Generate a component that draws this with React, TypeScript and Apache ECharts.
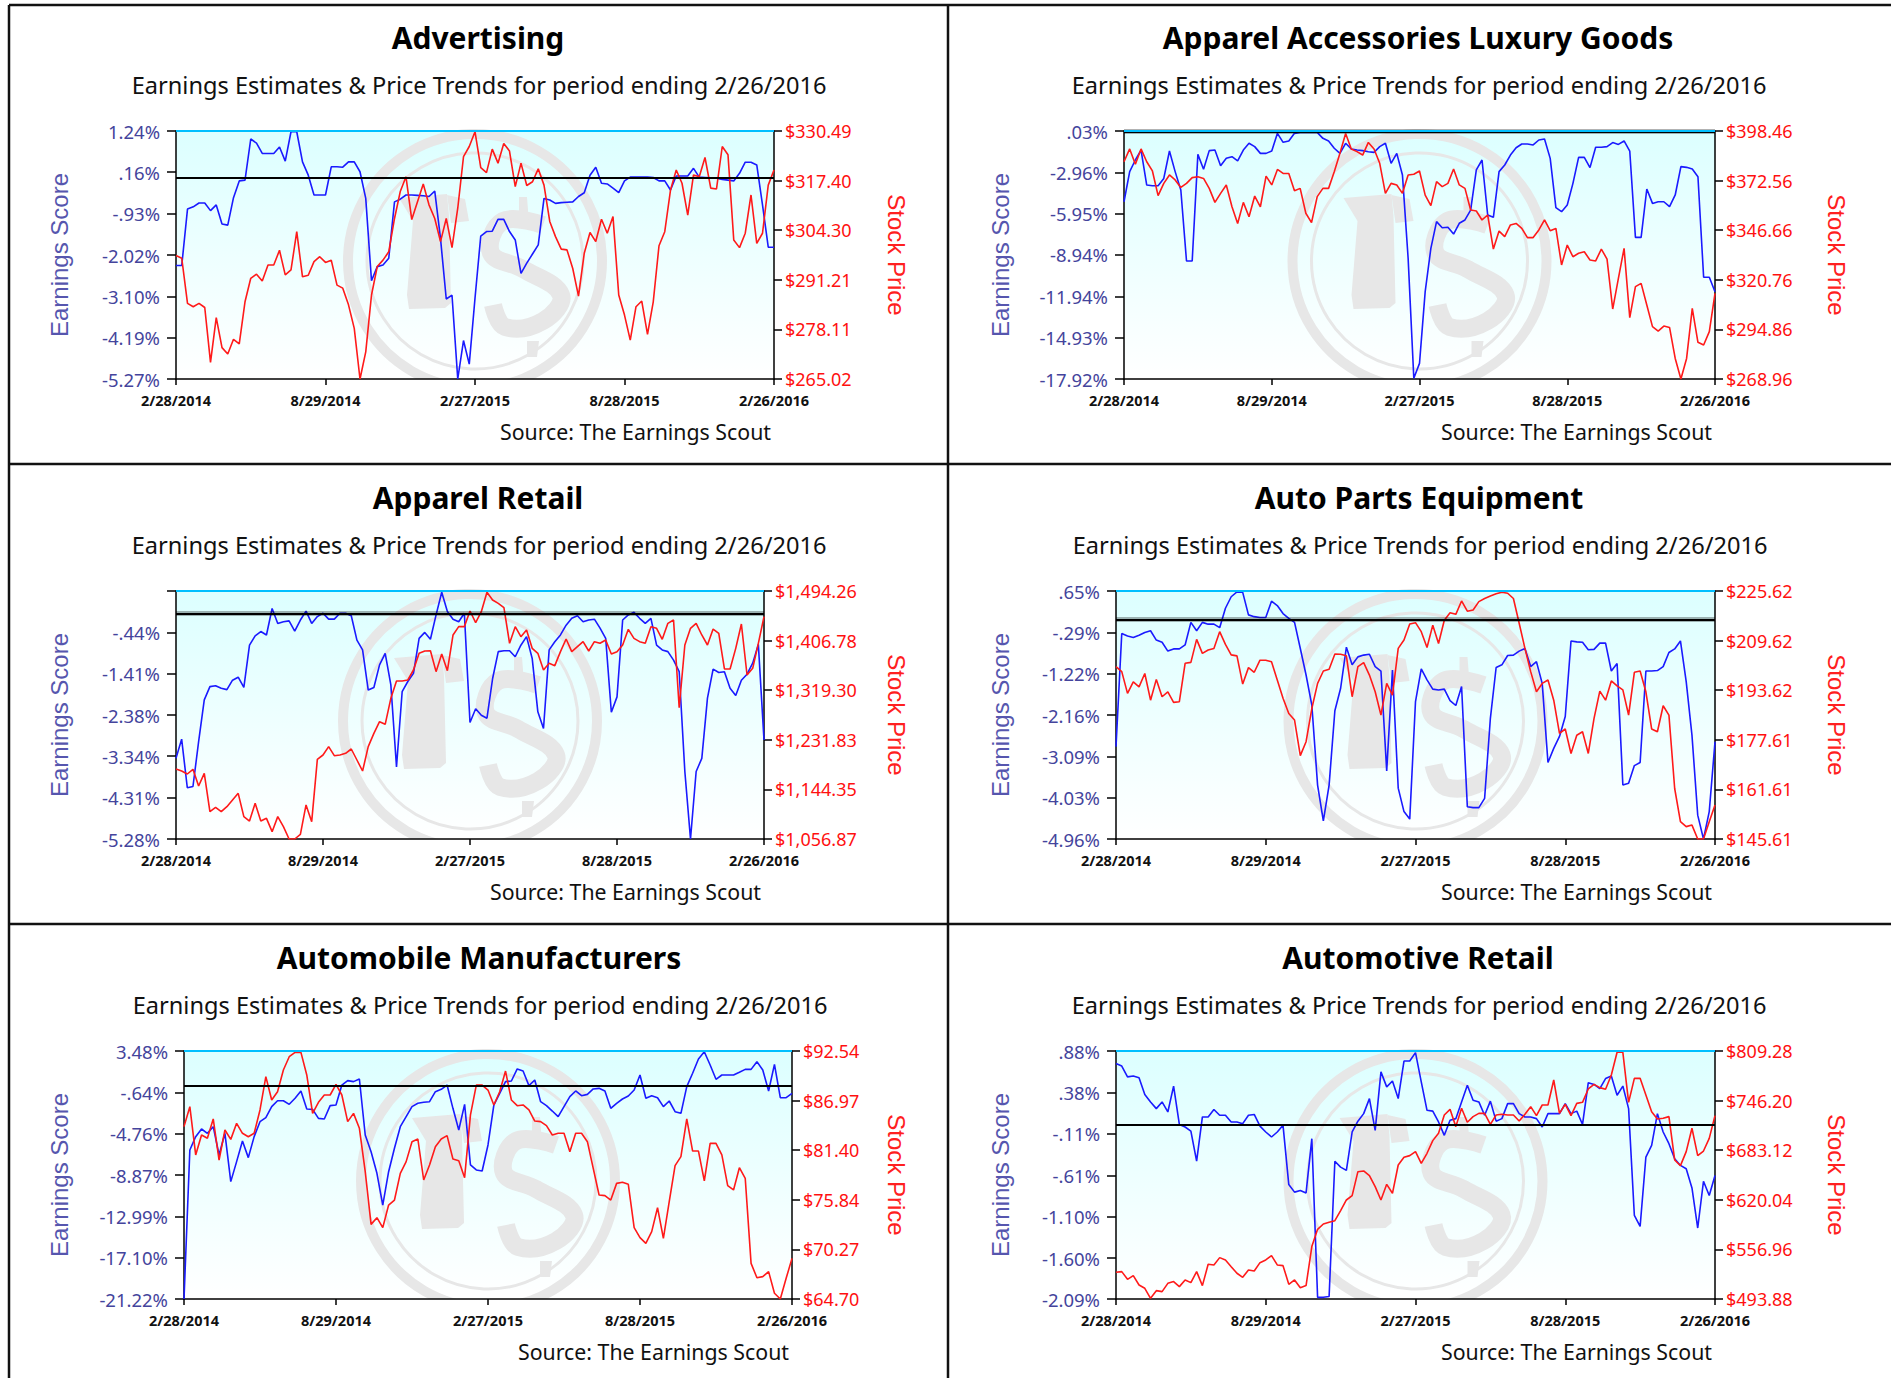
import React, { useEffect, useRef } from "react";
import * as echarts from "echarts";

const dateLabels = ["2/28/2014", "8/29/2014", "2/27/2015", "8/28/2015", "2/26/2016"];
const subtitleText = "Earnings Estimates & Price Trends for period ending 2/26/2016";
const sourceText = "Source: The Earnings Scout";

const advertisingEarnings = [-2.29,-2.29,-.81,-.75,-.65,-.65,-.85,-.70,-1.20,-1.23,-.51,-.07,-.05,1.03,.92,.65,.65,.65,.82,.45,1.22,1.22,.43,.08,-.44,-.44,-.44,.30,.30,.29,.43,.43,.17,-.53,-2.69,-2.32,-2.28,-2.10,-.62,-.55,-.44,-.44,-.45,-.46,-.48,-.34,-1.58,-3.17,-3.07,-5.27,-4.26,-4.88,-3.15,-1.52,-1.40,-1.39,-1.08,-1.08,-1.40,-1.62,-2.50,-2.23,-1.99,-1.75,-.53,-.57,-.66,-.64,-.63,-.62,-.48,-.38,.08,.29,-.13,-.15,-.26,-.38,-.07,.03,.03,.03,.03,.02,-.07,-.07,-.31,.06,.06,.06,.26,.03,.02,.01,0,-.03,-.05,-.07,.13,.42,.42,.35,-.70,-1.81,-1.81];
const advertisingPrice = [297.6,296.9,285.0,284.1,285.0,283.9,269.4,281.2,273.3,271.6,275.5,274.3,285.4,291.6,292.7,290.9,295.1,295.1,299.0,292.5,293.8,303.9,292.0,292.4,296.0,297.3,295.8,296.4,289.8,289.0,284.6,278.4,265.02,272.2,287.2,294.7,296.4,298.6,307.4,314.5,318.4,307.1,311.8,316.5,311.0,307.4,301.3,307.4,299.7,310.1,323.7,326.4,330.3,320.8,319.5,325.7,322.0,327.2,325.2,315.8,322.0,316.1,317.1,320.5,316.2,306.6,302.6,299.3,299.1,294.2,286.9,298.2,303.7,301.3,307.2,303.5,307.9,287.2,281.9,275.3,284.1,285.6,276.8,285.4,300.2,303.9,314.9,320.2,316.7,308.3,318.9,318.4,323.5,315.4,315.2,326.4,324.2,301.7,299.7,303.5,313.6,300.8,303.5,316.2,320.2];
const luxuryEarnings = [-5.09,-2.91,-2.07,-1.35,-3.88,-3.93,-3.93,-3.40,-1.42,-2.91,-4.24,-9.38,-9.38,-1.66,-2.74,-1.39,-1.35,-2.48,-1.95,-1.83,-2.14,-1.35,-.86,-1.10,-1.59,-1.59,-1.42,-.14,-.79,-.69,-.14,-.07,-.07,-.07,-.07,-.50,-.69,-1.22,-1.59,-.86,-1.27,-1.35,-1.39,-1.47,-1.52,-1.10,-.86,-2.31,-1.59,-3.16,-9.19,-17.87,-16.79,-11.60,-8.46,-6.53,-6.97,-6.94,-7.43,-6.65,-6.41,-5.69,-2.79,-2.07,-6.05,-6.22,-2.91,-2.43,-1.71,-1.18,-.91,-.91,-.98,-.62,-.55,-1.95,-5.52,-5.81,-5.33,-3.76,-1.88,-1.88,-2.62,-1.15,-1.15,-1.10,-.81,-.94,-.69,-1.42,-7.67,-7.67,-4.17,-5.21,-5.09,-5.09,-5.45,-4.60,-2.55,-2.60,-2.72,-3.28,-10.56,-10.56,-11.60];
const luxuryPrice = [382.4,389.1,381.1,389.1,382.4,377.6,364.7,371.1,375.5,372.9,369.0,371.1,374.1,374.6,373.7,368.5,361.2,365.9,370.3,358.9,350.2,361.2,353.7,364.5,358.9,374.9,370.3,378.4,376.3,376.3,367.3,368.5,355.5,350.6,364.2,368.5,368.5,377.2,386.8,397.2,389.1,387.7,385.9,392.5,389.1,381.6,365.9,371.1,370.3,365.9,375.5,375.9,377.6,365.0,359.5,372.0,369.4,371.1,378.6,370.3,368.5,357.2,356.7,352.0,354.6,336.8,346.2,343.3,349.4,350.2,347.6,342.8,342.8,346.8,352.0,346.4,347.6,328.5,338.9,332.8,334.6,335.4,331.1,330.6,336.8,331.6,305.5,321.5,337.2,301.0,317.2,318.9,307.6,296.3,294.0,296.6,295.9,279.7,268.96,279.7,305.8,288.1,286.7,293.7,313.7];
const retailApparelEarnings = [-3.39,-2.94,-4.08,-4.05,-3.00,-2.02,-1.71,-1.69,-1.75,-1.78,-1.56,-1.49,-1.73,-.74,-.52,-.42,-.50,.12,-.23,-.19,-.17,-.41,-.15,.06,-.23,-.07,.01,-.13,-.13,.01,.01,-.05,-.62,-.85,-1.79,-1.73,-1.20,-.93,-1.67,-3.59,-1.83,-1.59,-1.40,-.58,-.44,-.60,-.03,.50,.05,-.13,-.19,.01,-2.55,-2.23,-2.38,-2.45,-1.52,-.89,-.87,-.87,-1.01,-.74,-.54,-1.05,-2.30,-2.69,-.85,-.66,-.50,-.27,-.11,-.05,-.19,-.15,-.13,-.34,-.58,-2.31,-1.95,-.15,-.03,.03,-.11,-.23,-.11,-.74,-.85,-.89,-1.09,-1.36,-3.70,-5.28,-3.70,-3.39,-1.98,-1.30,-1.38,-1.36,-1.75,-1.92,-1.56,-1.42,-1.16,-.72,-2.96];
const retailApparelPrice = [1180.3,1176.8,1171.5,1179.7,1150.3,1172.7,1105.1,1112.7,1105.1,1113.9,1125.6,1137.4,1096.3,1088.6,1119.8,1088.6,1093.3,1069.8,1096.3,1078.6,1056.87,1056.87,1065.1,1116.9,1087.4,1197.4,1205.0,1219.7,1203.8,1205.0,1208.0,1215.6,1196.2,1176.8,1219.7,1243.2,1263.8,1259.1,1305.0,1335.5,1335.5,1337.3,1354.9,1384.3,1388.4,1389.0,1352.0,1383.1,1353.8,1416.7,1431.4,1431.4,1459.0,1438.4,1457.8,1491.9,1478.4,1472.5,1464.9,1402.0,1431.4,1413.7,1425.5,1393.1,1384.3,1354.9,1366.7,1362.6,1387.3,1409.6,1387.3,1396.1,1404.9,1388.4,1404.9,1402.0,1407.8,1383.1,1387.3,1399.0,1426.7,1410.8,1404.9,1402.0,1431.4,1428.4,1409.0,1437.2,1443.1,1288.5,1399.0,1428.4,1437.2,1416.7,1399.0,1427.2,1419.6,1356.7,1356.7,1393.1,1436.1,1346.1,1357.9,1402.0,1449.0];
const autoPartsEarnings = [-2.87,-.31,-.37,-.40,-.35,-.29,-.25,-.46,-.51,-.71,-.66,-.66,-.57,-.06,-.25,-.06,-.10,-.10,-.18,.26,.52,.63,.62,.11,.07,.05,.05,.42,.32,.14,.03,-.06,-.65,-1.25,-1.93,-3.74,-4.55,-3.74,-2.06,-1.55,-.62,-1.02,-.84,-.80,-.78,-1.06,-1.16,-3.42,-1.14,-3.81,-4.34,-4.51,-1.85,-1.11,-1.36,-1.57,-1.59,-1.57,-1.83,-1.94,-1.51,-4.23,-4.25,-4.25,-4.04,-2.23,-1.08,-1.02,-.81,-.80,-.71,-.65,-1.06,-.95,-1.44,-3.23,-2.91,-2.64,-2.19,-.48,-.50,-.51,-.68,-.67,-.53,-.53,-1.16,-.99,-3.74,-3.70,-3.30,-3.23,-1.16,-1.16,-1.15,-1.06,-.74,-.66,-.48,-1.40,-2.61,-4.42,-4.96,-4.34,-2.76];
const autoPartsPrice = [201.2,199.6,192.6,196.3,194.7,199.0,190.4,197.1,191.5,193.1,189.7,189.9,202.3,202.6,210.0,205.5,206.6,207.1,212.5,208.4,205.0,204.7,195.6,200.9,199.4,203.3,203.3,202.8,196.9,191.0,186.1,184.0,172.5,177.0,187.7,195.8,199.8,200.4,205.3,205.2,204.7,191.5,201.2,202.5,198.5,193.1,185.6,195.8,192.0,207.1,209.8,215.0,215.4,212.5,207.4,214.6,208.7,216.2,218.6,218.1,222.4,219.1,219.5,222.2,223.2,224.0,224.7,225.2,224.9,223.2,215.2,207.1,199.6,193.1,195.8,196.9,190.4,179.7,181.1,173.2,179.1,180.2,173.2,184.5,193.3,190.4,196.6,195.0,193.7,185.6,199.4,199.8,193.1,181.1,180.2,188.6,185.6,161.9,151.2,149.6,150.1,145.61,145.61,151.2,156.6];
const automakerEarnings = [-21.22,-6.38,-5.05,-4.29,-4.72,-4.06,-6.88,-4.72,-9.53,-7.54,-5.48,-7.14,-5.05,-3.56,-3.16,-2.06,-1.47,-1.47,-1.83,-1.23,-.50,-2.30,-2.33,-3.23,-3.29,-1.96,-1.90,.09,.53,.43,.69,-4.89,-6.55,-8.70,-11.86,-8.54,-6.21,-4.06,-3.06,-2.06,-1.73,-1.63,-1.57,-.57,-.34,.09,-2.23,-4.39,-1.83,-7.87,-8.37,-8.47,-5.88,-1.90,-.74,.43,.49,1.69,1.49,.03,.59,-1.57,-1.96,-2.50,-3.06,-2.06,-1.07,-.50,-.97,-.84,-.30,-.24,-.50,-2.23,-1.73,-1.30,-1.00,-.40,1.09,-1.23,-.97,-1.17,-2.06,-1.50,-2.56,-2.73,-.07,1.26,2.68,3.41,2.09,.66,1.09,1.09,1.09,1.36,1.65,1.65,2.42,1.59,-.50,2.15,-1.17,-1.17,-.74];
const automakerPrice = [84.05,86.29,80.87,83.11,82.74,84.91,80.30,83.67,82.62,84.42,83.30,82.92,83.30,85.92,89.66,87.04,87.97,90.41,91.90,92.39,92.39,89.85,85.54,86.78,87.60,87.60,88.80,87.60,84.61,85.54,83.86,78.99,73.08,73.83,72.71,75.25,75.81,78.81,80.12,82.36,82.66,78.06,79.74,81.80,82.66,83.04,80.42,80.23,78.32,85.36,88.72,88.72,88.16,86.48,87.97,90.29,87.04,86.40,86.48,85.92,84.68,84.61,84.16,83.11,83.30,83.30,81.24,83.30,83.30,82.36,79.37,76.37,76.30,75.81,77.68,77.80,77.57,72.71,71.59,70.95,72.26,74.95,71.51,75.63,79.67,80.68,84.91,81.31,81.31,77.95,82.17,82.17,80.87,77.42,76.94,79.44,78.25,68.70,67.09,67.21,67.77,65.34,64.70,67.02,69.26];
const autoRetailEarnings = [.73,.70,.57,.58,.56,.36,.27,.19,.27,.15,.46,0,-.03,-.08,-.44,.09,.09,.18,.11,.11,.03,.03,.01,.11,.12,-.02,-.09,-.15,-.09,-.01,-.72,-.81,-.79,-.82,-.17,-2.07,-2.07,-2.06,-.44,-.51,-.55,-.09,.04,.13,.31,-.07,.63,.45,.52,.31,.76,.76,.86,.51,.17,.16,.03,-.13,.05,.07,.27,.47,.29,.27,.11,.28,.04,.07,.25,.25,.13,.09,.09,.07,-.03,.13,.13,.13,.25,.13,.16,0,.50,.48,.43,.55,.58,.35,.46,.19,-1.09,-1.22,-.39,-.25,.13,-.09,-.23,-.41,-.49,-.53,-.76,-1.24,-.68,-.85,-.61];
const autoRetailPrice = [527.8,528.7,518.9,523.6,511.7,507.5,494.8,504.5,503.3,513.8,516.0,509.6,518.1,514.7,528.7,510.9,538.0,537.2,546.5,543.5,535.0,526.6,521.5,530.8,529.5,540.1,543.5,549.0,537.2,536.3,512.6,518.1,508.3,510.9,560.5,582.5,589.3,591.4,593.5,606.3,619.8,625.3,655.8,656.7,650.8,636.8,619.8,639.7,628.3,664.3,674.1,676.2,681.3,666.4,679.2,695.3,704.6,727.9,735.1,713.1,736.4,718.6,725.8,730.0,730.0,716.0,727.9,728.8,727.9,727.9,720.3,728.8,738.5,727.1,740.6,740.6,772.4,730.0,741.5,727.1,742.7,744.0,761.0,766.9,762.7,760.6,778.8,807.6,807.6,744.0,774.5,774.5,753.3,732.1,722.8,723.7,725.8,670.7,663.5,681.3,711.0,676.2,682.1,698.2,727.1];

const advertisingLeft = ["1.24%", ".16%", "-.93%", "-2.02%", "-3.10%", "-4.19%", "-5.27%"];
const advertisingRight = ["$330.49", "$317.40", "$304.30", "$291.21", "$278.11", "$265.02"];
const luxuryLeft = [".03%", "-2.96%", "-5.95%", "-8.94%", "-11.94%", "-14.93%", "-17.92%"];
const luxuryRight = ["$398.46", "$372.56", "$346.66", "$320.76", "$294.86", "$268.96"];
const retailApparelLeft = ["", "-.44%", "-1.41%", "-2.38%", "-3.34%", "-4.31%", "-5.28%"];
const retailApparelRight = ["$1,494.26", "$1,406.78", "$1,319.30", "$1,231.83", "$1,144.35", "$1,056.87"];
const autoPartsLeft = [".65%", "-.29%", "-1.22%", "-2.16%", "-3.09%", "-4.03%", "-4.96%"];
const autoPartsRight = ["$225.62", "$209.62", "$193.62", "$177.61", "$161.61", "$145.61"];
const automakerLeft = ["3.48%", "-.64%", "-4.76%", "-8.87%", "-12.99%", "-17.10%", "-21.22%"];
const automakerRight = ["$92.54", "$86.97", "$81.40", "$75.84", "$70.27", "$64.70"];
const autoRetailLeft = [".88%", ".38%", "-.11%", "-.61%", "-1.10%", "-1.60%", "-2.09%"];
const autoRetailRight = ["$809.28", "$746.20", "$683.12", "$620.04", "$556.96", "$493.88"];

const panels = [
  { title: "Advertising", cx: 478, rowY: 0, left: 176, right: 774, earnX: 59, priceX: 896, earnings: advertisingEarnings, price: advertisingPrice, leftLabels: advertisingLeft, rightLabels: advertisingRight, leftTop: 1.24, glow: false },
  { title: "Apparel Accessories Luxury Goods", cx: 1418, rowY: 0, left: 1124, right: 1715, earnX: 1000, priceX: 1836, earnings: luxuryEarnings, price: luxuryPrice, leftLabels: luxuryLeft, rightLabels: luxuryRight, leftTop: 0.03, glow: true },
  { title: "Apparel Retail", cx: 478, rowY: 460, left: 176, right: 764, earnX: 59, priceX: 896, earnings: retailApparelEarnings, price: retailApparelPrice, leftLabels: retailApparelLeft, rightLabels: retailApparelRight, leftTop: 0.53, glow: true },
  { title: "Auto Parts Equipment", cx: 1419, rowY: 460, left: 1116, right: 1715, earnX: 1000, priceX: 1836, earnings: autoPartsEarnings, price: autoPartsPrice, leftLabels: autoPartsLeft, rightLabels: autoPartsRight, leftTop: 0.65, glow: true },
  { title: "Automobile Manufacturers", cx: 479, rowY: 920, left: 184, right: 792, earnX: 59, priceX: 896, earnings: automakerEarnings, price: automakerPrice, leftLabels: automakerLeft, rightLabels: automakerRight, leftTop: 3.48, glow: false },
  { title: "Automotive Retail", cx: 1418, rowY: 920, left: 1116, right: 1715, earnX: 1000, priceX: 1836, earnings: autoRetailEarnings, price: autoRetailPrice, leftLabels: autoRetailLeft, rightLabels: autoRetailRight, leftTop: 0.88, glow: false },
];

const PLOT_TOP = 131;
const PLOT_HEIGHT = 248;
const WM = "#e7e7e7";
const parseNum = (s: string) => parseFloat(s.replace(/[$,%]/g, ""));

function closestLabel(labels: string[], values: number[], v: number) {
  let best = 0;
  values.forEach((x, i) => {
    if (Math.abs(x - v) < Math.abs(values[best] - v)) best = i;
  });
  return labels[best];
}

function watermark(cx: number, cy: number, bottom: number, left: number, width: number) {
  const poly = (pts: number[][]) => ({
    type: "polygon", z: 1, silent: true,
    shape: { points: pts.map(([x, y]) => [cx + x, cy + y]) },
    style: { fill: WM },
  });
  const curve = (pts: number[][], lw: number) => ({
    type: "polyline", z: 1, silent: true,
    shape: { points: pts.map(([x, y]) => [cx + x, cy + y]), smooth: 0.4 },
    style: { stroke: WM, lineWidth: lw, fill: "none" },
  });
  return [
    { type: "circle", z: 1, silent: true, shape: { cx, cy, r: 127 }, style: { fill: "none", stroke: WM, lineWidth: 10 } },
    { type: "circle", z: 1, silent: true, shape: { cx, cy, r: 108 }, style: { fill: "none", stroke: WM, lineWidth: 3 } },
    poly([[-76, -63], [-28, -67], [-26, -45], [-24, 42], [-30, 47], [-66, 48], [-68, 34], [-62, -40]]),
    poly([[-28, -66], [-10, -62], [-6, -40], [-24, -38]]),
    curve([[68, -36], [28, -40], [16, -8], [48, 8], [86, 34], [68, 60], [30, 66], [18, 44]], 18),
    poly([[44, -64], [52, -64], [54, -38], [44, -38]]),
    poly([[52, 80], [64, 80], [62, 96], [52, 96]]),
    { type: "rect", z: 1, z2: 10, silent: true, shape: { x: left - 20, y: bottom, width: width + 40, height: 14 }, style: { fill: "#ffffff" } },
  ];
}

function buildOption() {
  const titles: any[] = [];
  const grids: any[] = [];
  const xAxes: any[] = [];
  const yAxes: any[] = [];
  const series: any[] = [];
  const graphics: any[] = [];

  panels.forEach((p, i) => {
    const top = PLOT_TOP + p.rowY;
    const bottom = top + PLOT_HEIGHT;
    const width = p.right - p.left;
    titles.push({
      text: p.title, left: p.cx, top: p.rowY + 37, padding: 0, textAlign: "center", textVerticalAlign: "middle",
      textStyle: { fontFamily: "Noto Sans", fontWeight: "bold", fontSize: 30, color: "#000" },
    });
    titles.push({
      text: subtitleText, left: p.cx + 1, top: p.rowY + 85, padding: 0, textAlign: "center", textVerticalAlign: "middle",
      textStyle: { fontFamily: "Noto Sans", fontWeight: "normal", fontSize: 23.6, color: "#111" },
    });
    titles.push({
      text: sourceText, left: p.right - 3, top: p.rowY + 431, padding: 0, textAlign: "right", textVerticalAlign: "middle",
      textStyle: { fontFamily: "Noto Sans", fontWeight: "normal", fontSize: 21.3, color: "#111" },
    });
    grids.push({
      left: p.left, top, width, height: PLOT_HEIGHT, show: true, borderWidth: 0,
      backgroundColor: new echarts.graphic.LinearGradient(0, 0, 0, 1, [
        { offset: 0, color: "#dcffff" },
        { offset: 1, color: "#ffffff" },
      ]),
    });
    xAxes.push({
      gridIndex: i, type: "value", min: 0, max: 104, interval: 26, z: 3,
      axisLine: { onZero: false, lineStyle: { color: "#000", width: 1.5 } },
      axisTick: { length: 6, lineStyle: { color: "#000", width: 1.5 } },
      axisLabel: { margin: 13, fontFamily: "Noto Sans", fontSize: 14.5, color: "#111", fontWeight: "bold", formatter: (v: number) => dateLabels[Math.round(v / 26)], hideOverlap: false },
      splitLine: { show: false },
    });
    const leftValues = p.leftLabels.map((s, k) => (k === 0 ? p.leftTop : parseNum(s)));
    const rightValues = p.rightLabels.map(parseNum);
    yAxes.push({
      gridIndex: i, type: "value", position: "left", z: 3,
      min: leftValues[leftValues.length - 1], max: leftValues[0],
      name: "Earnings Score", nameLocation: "middle", nameRotate: 90, nameGap: p.left - p.earnX,
      nameTextStyle: { fontFamily: "Liberation Sans", fontSize: 24, color: "#5656ae", verticalAlign: "middle" },
      axisLine: { show: true, onZero: false, lineStyle: { color: "#000", width: 1.5 } },
      axisTick: { show: true, length: 9, customValues: leftValues, lineStyle: { color: "#000", width: 1.5 } },
      axisLabel: {
        margin: 16, fontFamily: "Noto Sans", fontSize: 18.5, color: "#44449c", padding: [0, 0, 3, 0],
        customValues: p.leftLabels[0] ? leftValues : leftValues.slice(1),
        formatter: (v: number) => closestLabel(p.leftLabels, leftValues, v),
      },
      splitLine: { show: false },
    });
    yAxes.push({
      gridIndex: i, type: "value", position: "right", z: 3,
      min: rightValues[rightValues.length - 1], max: rightValues[0],
      name: "Stock Price", nameLocation: "middle", nameRotate: -90, nameGap: p.priceX - p.right,
      nameTextStyle: { fontFamily: "Liberation Sans", fontSize: 24, color: "#ff2020", verticalAlign: "middle" },
      axisLine: { show: true, onZero: false, lineStyle: { color: "#000", width: 1.5 } },
      axisTick: { show: true, length: 8, customValues: rightValues, lineStyle: { color: "#000", width: 1.5 } },
      axisLabel: {
        margin: 11, fontFamily: "Noto Sans", fontSize: 18, color: "#ff1010", padding: [0, 0, 3, 0],
        customValues: rightValues,
        formatter: (v: number) => closestLabel(p.rightLabels, rightValues, v),
      },
      splitLine: { show: false },
    });
    const lineMarks: any[] = [
      { yAxis: 0, lineStyle: { color: "#000", width: 2, type: "solid" } },
      { yAxis: leftValues[0], lineStyle: { color: "#00bfff", width: 2, type: "solid" } },
    ];
    if (p.glow) lineMarks.unshift({ yAxis: 0, lineStyle: { color: "rgba(0,0,0,0.3)", width: 5, type: "solid" } });
    series.push({
      type: "line", name: p.title + " Earnings Score", xAxisIndex: i, yAxisIndex: i * 2, showSymbol: false, silent: true,
      lineStyle: { color: "#1a1aff", width: 1.6 },
      data: p.earnings.map((v, k) => [k, v]),
      markLine: { silent: true, symbol: "none", animation: false, label: { show: false }, data: lineMarks },
    });
    series.push({
      type: "line", name: p.title + " Stock Price", xAxisIndex: i, yAxisIndex: i * 2 + 1, showSymbol: false, silent: true,
      lineStyle: { color: "#ff1a1a", width: 1.6 },
      data: p.price.map((v, k) => [k, v]),
    });
    graphics.push(...watermark((p.left + p.right) / 2, top + 130, bottom, p.left, width));
  });

  // panel borders
  const black = { stroke: "#111", lineWidth: 2.5 };
  [
    [9, 5, 1891, 5],
    [9, 5, 9, 1378],
    [948, 5, 948, 1378],
    [9, 464, 1891, 464],
    [9, 924, 1891, 924],
  ].forEach(([x1, y1, x2, y2]) => {
    graphics.push({ type: "line", z: 4, silent: true, shape: { x1, y1, x2, y2 }, style: black });
  });

  return {
    animation: false,
    backgroundColor: "#ffffff",
    title: titles,
    grid: grids,
    xAxis: xAxes,
    yAxis: yAxes,
    series,
    graphic: { elements: graphics },
  };
}

export default function App() {
  const ref = useRef<HTMLDivElement>(null);
  useEffect(() => {
    const chart = echarts.init(ref.current as HTMLDivElement, undefined, { renderer: "svg" });
    chart.setOption(buildOption() as any);
    return () => chart.dispose();
  }, []);
  return <div ref={ref} style={{ position: "absolute", left: 0, top: 0, width: 1891, height: 1378 }} />;
}
